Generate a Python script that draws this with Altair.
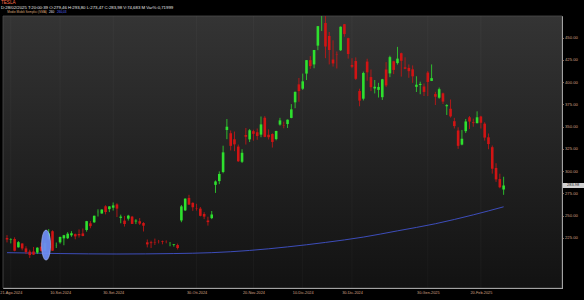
import altair as alt
import pandas as pd

# ---------------- data ----------------
dates = [
    "2024-08-20", "2024-08-21", "2024-08-22", "2024-08-23", "2024-08-26", "2024-08-27", "2024-08-28", "2024-08-29", "2024-08-30",
    "2024-09-03", "2024-09-04", "2024-09-05", "2024-09-06", "2024-09-09", "2024-09-10", "2024-09-11", "2024-09-12", "2024-09-13",
    "2024-09-16", "2024-09-17", "2024-09-18", "2024-09-19", "2024-09-20", "2024-09-23", "2024-09-24", "2024-09-25", "2024-09-26",
    "2024-09-27", "2024-09-30",
    "2024-10-01", "2024-10-02", "2024-10-03", "2024-10-04", "2024-10-07", "2024-10-08", "2024-10-09", "2024-10-10", "2024-10-11",
    "2024-10-14", "2024-10-15", "2024-10-16", "2024-10-17", "2024-10-18", "2024-10-21", "2024-10-22", "2024-10-23", "2024-10-24",
    "2024-10-25", "2024-10-28", "2024-10-29", "2024-10-30", "2024-10-31",
    "2024-11-01", "2024-11-04", "2024-11-05", "2024-11-06", "2024-11-07", "2024-11-08", "2024-11-11", "2024-11-12", "2024-11-13",
    "2024-11-14", "2024-11-15", "2024-11-18", "2024-11-19", "2024-11-20", "2024-11-21", "2024-11-22", "2024-11-25", "2024-11-26",
    "2024-11-27", "2024-11-29",
    "2024-12-02", "2024-12-03", "2024-12-04", "2024-12-05", "2024-12-06", "2024-12-09", "2024-12-10", "2024-12-11", "2024-12-12",
    "2024-12-13", "2024-12-16", "2024-12-17", "2024-12-18", "2024-12-19", "2024-12-20", "2024-12-23", "2024-12-24", "2024-12-26",
    "2024-12-27", "2024-12-30", "2024-12-31",
    "2025-01-02", "2025-01-03", "2025-01-06", "2025-01-07", "2025-01-08", "2025-01-10", "2025-01-13", "2025-01-14", "2025-01-15",
    "2025-01-16", "2025-01-17", "2025-01-21", "2025-01-22", "2025-01-23", "2025-01-24", "2025-01-27", "2025-01-28", "2025-01-29",
    "2025-01-30", "2025-01-31",
    "2025-02-03", "2025-02-04", "2025-02-05", "2025-02-06", "2025-02-07", "2025-02-10", "2025-02-11", "2025-02-12", "2025-02-13",
    "2025-02-14", "2025-02-18", "2025-02-19", "2025-02-20", "2025-02-21", "2025-02-24", "2025-02-25", "2025-02-26", "2025-02-27",
    "2025-02-28",
]

opens = [
    224.9, 222.7, 223.8, 214.5, 218.8, 213.3, 209.7, 209.8, 208.6,
    215.3, 210.6, 223.5, 232.6, 216.2, 220.1, 224.6, 224.7, 228.0, 229.3, 229.5, 230.1, 234.0, 241.5, 242.6, 254.1, 252.5, 260.6, 257.4, 259.0,
    262.7, 247.6, 244.5, 246.7, 249.0, 243.6, 243.8, 241.8, 220.1, 220.1, 220.0, 221.4, 221.6, 220.8, 218.9, 217.3, 217.1, 244.7, 256.0, 270.0, 264.5, 258.0, 258.0,
    252.0, 244.6, 247.3, 284.7, 288.9, 299.1, 346.3, 342.7, 335.9, 327.7, 310.6, 340.7, 335.8, 345.0, 343.8, 341.1, 360.1, 341.0, 341.8, 336.1,
    352.4, 351.8, 353.0, 359.9, 377.4, 397.6, 392.7, 409.7, 424.8, 420.0, 441.1, 475.9, 466.5, 451.9, 425.5, 431.0, 435.9, 465.2, 449.5, 419.4, 423.8,
    390.1, 381.5, 423.2, 405.8, 393.0, 391.4, 383.2, 414.3, 409.9, 423.5, 421.5, 432.6, 416.8, 416.1, 414.5, 394.8, 396.9, 395.2, 410.8, 401.5,
    386.7, 382.6, 387.5, 373.0, 370.2, 356.2, 345.8, 329.9, 345.0, 360.6, 355.0, 354.0, 361.5, 353.4, 338.1, 327.0, 303.7, 291.2, 279.46,
]
highs = [
    228.2, 224.7, 225.8, 221.5, 219.1, 215.7, 211.8, 214.9, 214.6,
    219.9, 222.2, 235.0, 233.6, 219.9, 226.4, 228.5, 231.5, 232.7, 230.0, 234.6, 235.7, 244.2, 244.0, 250.0, 257.2, 257.1, 261.8, 260.7, 264.9,
    264.0, 251.2, 249.8, 251.0, 249.8, 246.2, 247.4, 242.8, 223.3, 221.9, 224.3, 222.8, 222.1, 222.3, 220.5, 218.2, 218.7, 262.1, 269.5, 273.5, 265.0, 263.4, 259.8,
    254.0, 248.9, 255.3, 289.6, 299.8, 328.7, 358.6, 345.8, 344.6, 330.0, 324.7, 348.6, 347.4, 346.6, 348.0, 361.5, 361.9, 347.0, 342.6, 345.5,
    360.0, 355.7, 358.1, 375.4, 389.5, 404.8, 409.7, 424.9, 429.3, 436.3, 463.2, 484.0, 488.5, 456.4, 447.1, 434.5, 462.8, 465.3, 450.0, 427.0, 427.9,
    392.7, 411.9, 426.4, 414.3, 402.5, 399.3, 403.8, 422.6, 429.8, 424.0, 439.7, 433.2, 428.0, 420.0, 418.9, 406.7, 400.6, 398.6, 412.5, 420.0,
    389.2, 394.0, 388.4, 375.4, 380.6, 360.0, 349.4, 346.4, 358.7, 362.0, 359.1, 367.3, 362.3, 355.0, 342.4, 328.9, 309.0, 297.2, 293.80,
]
lows = [
    220.0, 218.9, 210.0, 214.2, 211.0, 206.9, 202.6, 205.9, 207.0,
    209.6, 210.6, 222.3, 210.5, 213.7, 218.6, 216.8, 223.8, 226.3, 223.5, 225.5, 226.9, 232.1, 235.9, 241.9, 249.1, 252.3, 251.5, 254.1, 255.8,
    248.5, 241.5, 237.8, 244.6, 240.7, 240.6, 239.5, 232.3, 214.4, 213.7, 217.1, 218.9, 217.9, 219.0, 215.7, 215.3, 212.1, 242.7, 255.3, 262.2, 255.5, 255.8, 249.3,
    246.2, 238.9, 246.2, 275.6, 285.5, 297.7, 336.0, 323.3, 322.5, 310.4, 309.2, 330.0, 332.8, 334.3, 335.3, 338.2, 338.2, 335.7, 326.6, 334.7,
    351.2, 348.2, 348.6, 359.5, 370.8, 378.0, 391.3, 402.4, 415.0, 415.7, 436.0, 457.5, 427.0, 420.0, 417.6, 415.4, 435.1, 451.1, 426.5, 415.8, 402.5,
    373.0, 379.5, 401.7, 390.0, 387.4, 382.8, 380.1, 394.5, 405.7, 409.1, 419.8, 406.3, 414.6, 405.0, 399.3, 389.0, 386.5, 384.5, 384.4, 401.3,
    374.4, 381.4, 375.5, 363.2, 360.3, 348.0, 325.1, 329.1, 342.9, 347.5, 350.0, 353.7, 348.0, 334.4, 324.7, 297.3, 288.0, 280.9, 273.47,
]
closes = [
    223.3, 223.3, 210.7, 220.3, 213.2, 209.2, 205.8, 206.3, 214.1,
    210.6, 219.4, 230.2, 210.7, 216.3, 226.2, 228.1, 229.8, 230.3, 226.8, 227.9, 227.2, 243.9, 238.3, 250.0, 254.3, 257.0, 254.2, 260.5, 261.6,
    258.0, 249.0, 240.7, 250.1, 240.8, 244.5, 241.1, 238.8, 217.8, 219.2, 219.6, 221.3, 220.9, 220.7, 218.9, 218.0, 213.7, 260.5, 269.2, 262.5, 259.5, 257.6, 249.9,
    249.0, 242.8, 251.4, 288.5, 296.9, 321.2, 350.0, 328.5, 330.2, 311.2, 320.7, 338.7, 346.0, 342.0, 339.6, 352.6, 338.6, 338.2, 332.9, 345.2,
    357.1, 351.4, 357.9, 369.5, 389.2, 390.0, 401.0, 424.8, 418.1, 436.2, 463.0, 479.9, 440.1, 436.2, 421.1, 430.6, 462.3, 454.1, 431.7, 417.4, 403.8,
    379.3, 410.4, 411.1, 394.4, 394.9, 394.7, 403.3, 396.4, 428.2, 413.8, 426.5, 424.1, 415.1, 412.4, 406.6, 397.2, 398.1, 389.1, 400.3, 404.6,
    383.7, 392.2, 378.2, 374.3, 361.6, 350.7, 328.5, 336.5, 355.9, 355.8, 354.1, 360.6, 354.4, 337.8, 330.5, 302.8, 290.8, 281.95, 283.98,
]

# simple moving average (260)
sma_dates = ["2024-08-20", "2024-09-10", "2024-10-01", "2024-10-22", "2024-11-05", "2024-11-19",
             "2024-12-04", "2024-12-18", "2025-01-03", "2025-01-17", "2025-02-03", "2025-02-18", "2025-02-28"]
sma_values = [208.5, 207.5, 207.0, 207.5, 208.5, 211.0, 215.0, 220.0, 226.0, 233.0, 241.0, 251.0, 260.03]

tick_dates = ["2024-08-21", "2024-09-10", "2024-09-30", "2024-10-30", "2024-11-20",
              "2024-12-10", "2024-12-30", "2025-01-30", "2025-02-20"]
tick_labels = ["21-Ago-2024", "10-Set-2024", "30-Set-2024", "30-Ott-2024", "20-Nov-2024",
               "10-Dic-2024", "30-Dic-2024", "30-Gen-2025", "20-Feb-2025"]
y_ticks = [225, 250, 275, 300, 325, 350, 375, 400, 425, 450]

header_symbol = "TESLA"
header_quote = "D:28/02/2025  T:20:00:39  O:279,46  H:293,80  L:273,47  C:283,98  V:74,683 M  Var%:0,71999"
header_ind_name = "Medie Mobili Semplici (SMA)"
header_ind_period = "260"
header_ind_value = "260,03"
last_price_label = "283.98"

# ellipse annotation (drawn on the chart)
ELLIPSE_DATE = "2024-09-05"
ELLIPSE_PRICE = 217.0

# ---------------- build ----------------
n = len(dates)
assert len(opens) == n and len(highs) == n and len(lows) == n and len(closes) == n

df = pd.DataFrame({"date": dates, "open": opens, "high": highs, "low": lows, "close": closes})
df["i"] = list(range(n))
df["dir"] = ["up" if c >= o else "down" for o, c in zip(opens, closes)]

sma_df = pd.DataFrame({"i": [dates.index(d) for d in sma_dates], "sma": sma_values})

tick_idx = [dates.index(d) for d in tick_dates]
label_expr = "''"
for idx, lab in reversed(list(zip(tick_idx, tick_labels))):
    label_expr = f"datum.value == {idx} ? '{lab}' : ({label_expr})"

W, H = 559, 272
FONT = "Liberation Sans"
LABEL_COLOR = "#d6a486"
GREEN = "#2ee02e"
RED = "#d11414"

xscale = alt.Scale(domain=[0.26, 145.08], nice=False, zero=False)
yscale = alt.Scale(domain=[168.8, 474.4], nice=False, zero=False)

x_axis = alt.Axis(orient="bottom", values=tick_idx, labelExpr=label_expr, labelFontSize=3.8,
                  labelColor=LABEL_COLOR, labelFont=FONT, ticks=False, domain=False, grid=False,
                  labelPadding=2.5, labelFlush=False, labelOverlap=False, title=None)
y_axis = alt.Axis(orient="right", values=y_ticks, format=".2f", labelFontSize=4.2,
                  labelColor=LABEL_COLOR, labelFont=FONT, tickColor=LABEL_COLOR, tickSize=1.5,
                  tickWidth=0.6, domain=False, grid=False, labelPadding=1, title=None,
                  labelOverlap=False)

def X(field="i"):
    return alt.X(f"{field}:Q", scale=xscale, axis=x_axis)

def Y(field):
    return alt.Y(f"{field}:Q", scale=yscale, axis=y_axis)

one = pd.DataFrame({"a": [0]})

background = alt.Chart(one).mark_rect(
    fill=alt.Gradient(gradient="linear",
                      stops=[alt.GradientStop(color="#343434", offset=0),
                             alt.GradientStop(color="#121212", offset=1)],
                      x1=0, x2=0, y1=0, y2=1),
    stroke="#4d4d4d", strokeWidth=0.8,
).encode(x=alt.value(0), x2=alt.value(W), y=alt.value(0), y2=alt.value(H))

grid = alt.Chart(pd.DataFrame({"i": tick_idx})).mark_rule(
    color="#ffffff", opacity=0.045, strokeWidth=0.8
).encode(x=X(), y=alt.value(0), y2=alt.value(H))

sma_line = alt.Chart(sma_df).mark_line(
    color="#4152cc", strokeWidth=0.9, clip=True, interpolate="monotone"
).encode(x=X(), y=Y("sma"))

color_enc = alt.Color("dir:N", scale=alt.Scale(domain=["up", "down"], range=[GREEN, RED]), legend=None)

wicks = alt.Chart(df).mark_rule(strokeWidth=0.8, clip=True).encode(
    x=X(), y=Y("low"), y2="high:Q", color=color_enc)

bodies = alt.Chart(df).mark_bar(size=2.6, clip=True).encode(
    x=X(), y=Y("open"), y2="close:Q", color=color_enc)

ellipse_path = ("M0,-1 C0.1657,-1 0.3,-0.5523 0.3,0 C0.3,0.5523 0.1657,1 0,1 "
                "C-0.1657,1 -0.3,0.5523 -0.3,0 C-0.3,-0.5523 -0.1657,-1 0,-1 Z")
ellipse = alt.Chart(pd.DataFrame({"i": [dates.index(ELLIPSE_DATE) - 0.7], "p": [ELLIPSE_PRICE]})).mark_point(
    shape=ellipse_path, size=900, filled=True, fill="#6d8cf2", stroke="#b4c6ff",
    strokeWidth=0.6, opacity=0.95
).encode(x=X(), y=Y("p"))

last_df = pd.DataFrame({"p": [closes[-1]]})
tag_rect = alt.Chart(last_df).mark_rect(fill="#d2d2d2", height=5).encode(
    x=alt.value(W + 0.8), x2=alt.value(W + 22), y=Y("p"))
tag_text = alt.Chart(last_df).mark_text(
    text=last_price_label, fontSize=4, font=FONT, color="#222222", align="left", baseline="middle"
).encode(x=alt.value(W + 5), y=Y("p"))

def htext(txt, x, y, color, size, weight="normal"):
    return alt.Chart(one).mark_text(
        text=txt, fontSize=size, font=FONT, color=color, align="left",
        baseline="alphabetic", fontWeight=weight
    ).encode(x=alt.value(x), y=alt.value(y))

headers = [
    htext(header_symbol, -2, -12.2, "#ff6d4a", 4.6),
    htext(header_quote, -2, -7.3, "#e8e8e8", 4.3),
    htext(header_ind_name, 4.3, -3.2, "#d9a27a", 3.1),
    htext(header_ind_period, 46, -3.2, "#e8e8e8", 3.1),
    htext(header_ind_value, 54, -3.2, "#5a6cff", 3.1),
]

chart = alt.layer(
    background, grid, sma_line, wicks, bodies, ellipse, tag_rect, tag_text, *headers
).properties(
    width=W, height=H,
    autosize=alt.AutoSizeParams(type="none"),
    padding={"left": 3, "top": 16, "right": 22, "bottom": 12},
    background="#000000",
).configure_view(stroke=None).configure(font=FONT)

chart.save("out.html", embed_options={"renderer": "svg", "actions": False})
